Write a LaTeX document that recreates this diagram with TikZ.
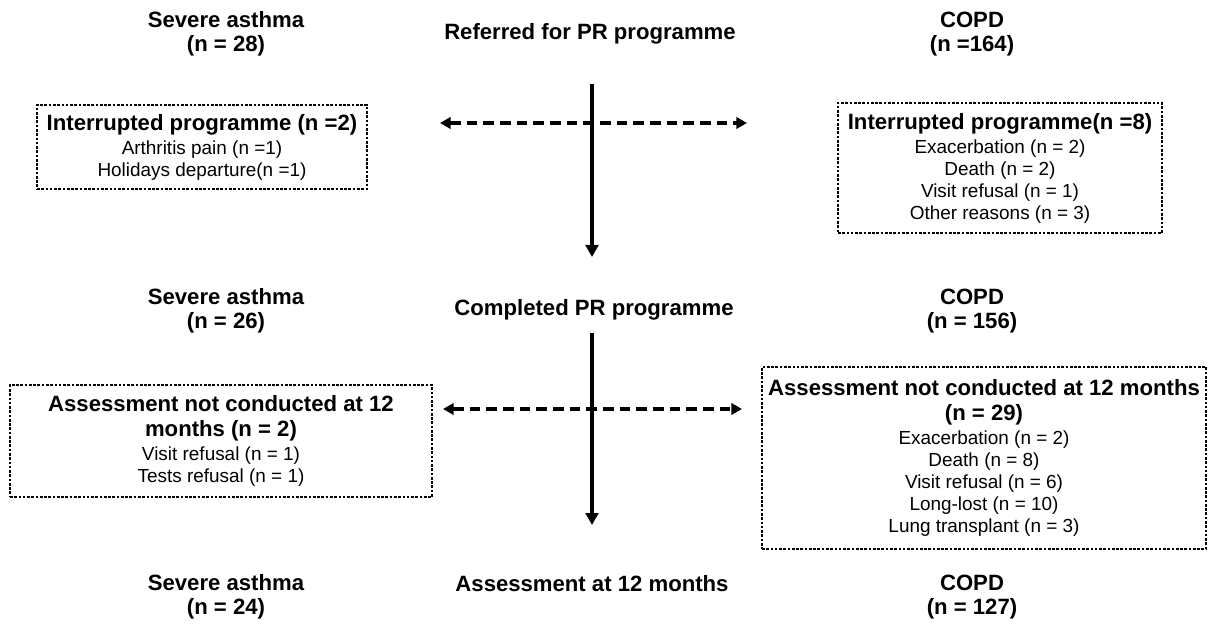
\documentclass[tikz,border=0pt]{standalone}
\usepackage{fontspec}
\setmainfont{Liberation Sans}
\usetikzlibrary{arrows.meta, positioning}
\newcommand{\px}{0.75pt}
\newcommand{\hdfont}{\fontsize{16.6}{18.4}\selectfont\bfseries}
\newcommand{\bxhead}{\fontsize{16.6}{18.75}\selectfont\bfseries}
\newcommand{\bxbody}{\fontsize{14.2}{16.5}\selectfont}

\tikzset{
  heading/.style={align=center, font=\hdfont, inner sep=0pt},
  reasonbox/.style={draw, dash pattern=on 2pt off 1.2pt, line width=0.8pt, align=center, font=\bxbody, inner sep=0pt},
  flow/.style={line width=2.8pt, -{Triangle[length=9pt,width=9.5pt]}},
  sideflow/.style={line width=2.8pt, dash pattern=on 8pt off 4.5pt, {Triangle[length=8pt,width=8.5pt]}-{Triangle[length=8pt,width=8.5pt]}},
}

\begin{document}
\begin{tikzpicture}[x=\px, y=-\px]
  \useasboundingbox (0,0) rectangle (1209,627);

  % group headings
  \node[heading] (sa1) at (226,34) {Severe asthma\\(n = 28)};
  \node[heading] (referred) at (590,34) {Referred for PR programme};
  \node[heading] (copd1) at (972,34) {COPD\\(n =164)};

  \node[heading] (sa2) at (226,311) {Severe asthma\\(n = 26)};
  \node[heading] (completed) at (594,310) {Completed PR programme};
  \node[heading] (copd2) at (972,311) {COPD\\(n = 156)};

  \node[heading] (sa3) at (226,597) {Severe asthma\\(n = 24)};
  \node[heading] (assessed) at (592,584) {Assessment at 12 months};
  \node[heading] (copd3) at (972,597) {COPD\\(n = 127)};

  % drop-out boxes
  \node[reasonbox, minimum width=330*\px, minimum height=84*\px] (saout1) at (202,147) {
    {\bxhead Interrupted programme (n =2)}\\[1.5pt]
    Arthritis pain (n =1)\\
    Holidays departure(n =1)
  };
  \node[reasonbox, minimum width=324*\px, minimum height=130*\px] (copdout1) at (1000,168) {
    {\bxhead Interrupted programme(n =8)}\\[1.5pt]
    Exacerbation (n = 2)\\
    Death (n = 2)\\
    Visit refusal (n = 1)\\
    Other reasons (n = 3)
  };
  \node[reasonbox, minimum width=422*\px, minimum height=112*\px] (saout2) at (221,441) {
    {\bxhead Assessment not conducted at 12}\\[2.25pt]
    {\bxhead months (n = 2)}\\[1.5pt]
    Visit refusal (n = 1)\\
    Tests refusal (n = 1)
  };
  \node[reasonbox, minimum width=444*\px, minimum height=182*\px] (copdout2) at (984,458) {
    {\bxhead Assessment not conducted at 12 months}\\[2.25pt]
    {\bxhead (n = 29)}\\[1.5pt]
    Exacerbation (n = 2)\\
    Death (n = 8)\\
    Visit refusal (n = 6)\\
    Long-lost (n = 10)\\
    Lung transplant (n = 3)
  };

  % arrows
  \coordinate (v1start) at (592,84);
  \coordinate (v1end) at (592,257);
  \coordinate (h1left) at (440,123);
  \coordinate (h1right) at (747,123);
  \coordinate (v2start) at (592,333);
  \coordinate (v2end) at (592,525);
  \coordinate (h2left) at (443,409);
  \coordinate (h2right) at (742,409);

  \draw[flow] (v1start) -- (v1end);
  \draw[sideflow] (h1left) -- (h1right);
  \draw[flow] (v2start) -- (v2end);
  \draw[sideflow] (h2left) -- (h2right);
\end{tikzpicture}
\end{document}
